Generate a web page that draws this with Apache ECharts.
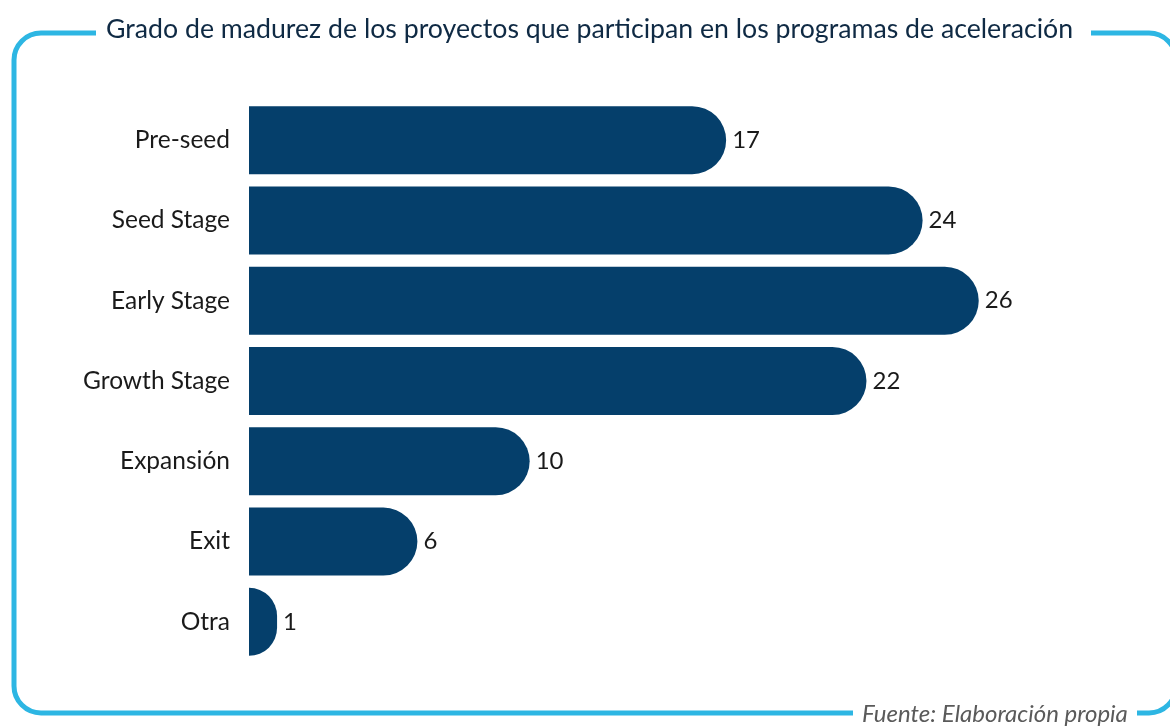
<!DOCTYPE html>
<html>
<head>
  <meta charset="utf-8">
  <title>Grado de madurez</title>
  <script src="https://cdn.jsdelivr.net/npm/echarts@6/dist/echarts.min.js"></script>
  <style>
    html, body { margin: 0; padding: 0; background: #fff; }
    #main { width: 1170px; height: 727px; }
  </style>
</head>
<body>
  <div id="main"></div>
  <script>
  var categories = ['Pre-seed', 'Seed Stage', 'Early Stage', 'Growth Stage', 'Expansión', 'Exit', 'Otra'];
  var values = [17, 24, 26, 22, 10, 6, 1];

  var chart = echarts.init(document.getElementById('main'));
  chart.setOption({
    backgroundColor: '#fff',
    textStyle: { fontFamily: 'Lato, "Noto Sans", sans-serif' },
    graphic: [
      // marco azul redondeado
      {
        type: 'rect', z: 0,
        shape: { x: 14, y: 33, width: 1162, height: 680, r: 27 },
        style: { fill: 'none', stroke: '#2db6e3', lineWidth: 5 }
      },
      // huecos del marco para titulo y fuente
      { type: 'rect', z: 1, shape: { x: 96, y: 25, width: 995, height: 16 }, style: { fill: '#fff' } },
      { type: 'rect', z: 1, shape: { x: 853, y: 705, width: 284, height: 16 }, style: { fill: '#fff' } },
      {
        type: 'text', z: 2, left: 106, top: 16,
        style: { text: 'Grado de madurez de los proyectos que participan en los programas de aceleración',
                 font: '26.7px Lato', fill: '#0f2a44' }
      },
      {
        type: 'text', z: 2, left: 862, top: 702,
        style: { text: 'Fuente: Elaboración propia', font: 'italic 24px Lato', fill: '#5a5a5a' }
      }
    ],
    grid: { left: 249, right: 79, top: 100, height: 562 },
    xAxis: { type: 'value', min: 0, max: 30, show: false },
    yAxis: {
      type: 'category', data: categories, inverse: true,
      axisLine: { show: false }, axisTick: { show: false },
      axisLabel: { fontSize: 24.5, color: '#1a1a1a', margin: 19, fontFamily: 'Lato' }
    },
    series: [{
      type: 'bar', data: values, barWidth: 68,
      itemStyle: { color: '#053f6b', borderRadius: [0, 34, 34, 0] },
      label: { show: true, position: 'right', distance: 6, fontSize: 24, color: '#1a1a1a', fontFamily: 'Lato' }
    }]
  });
  </script>
</body>
</html>
